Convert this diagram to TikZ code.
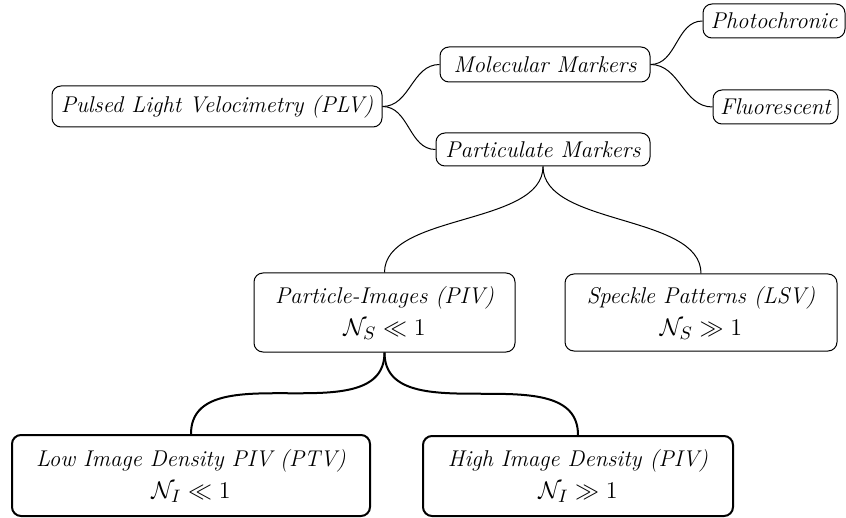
\documentclass[tikz,border=0pt]{standalone}
\usepackage{amsmath,amssymb}
\newcommand{\mline}[1]{{\fontsize{12.5}{15}\selectfont\upshape$#1$}}
\begin{document}
\begin{tikzpicture}[x=0.5pt,y=-0.5pt,
  box/.style={draw, rounded corners=4.5pt, line width=0.5pt, inner sep=0pt, align=center,
    font=\fontsize{11.4}{14}\selectfont\itshape},
  tbox/.style={box, line width=1pt},
  link/.style={line width=0.5pt},
  tlink/.style={line width=1pt}]
\useasboundingbox (0,0) rectangle (846,518);
\node[box, minimum width=165pt, minimum height=20.5pt] (plv) at (217,106.5) {Pulsed Light Velocimetry (PLV)};
\node[box, minimum width=105pt, minimum height=17.5pt] (mol) at (545,64.5) {Molecular Markers};
\node[box, minimum width=71pt, minimum height=17pt] (pho) at (774,21) {Photochronic};
\node[box, minimum width=62.5pt, minimum height=17pt] (flu) at (775.5,107) {Fluorescent};
\node[box, minimum width=107pt, minimum height=16.5pt] (par) at (543,149.5) {Particulate Markers};
\node[box, minimum width=130.5pt, minimum height=39.5pt] (piv) at (384.5,312.5) {Particle-Images (PIV)\\[2pt] \mline{\mathcal{N}_S \ll 1}};
\node[box, minimum width=136pt, minimum height=38.5pt] (lsv) at (701,312.5) {Speckle Patterns (LSV)\\[2pt] \mline{\mathcal{N}_S \gg 1}};
\node[tbox, minimum width=179pt, minimum height=40.5pt] (low) at (191,475.5) {Low Image Density PIV (PTV)\\[2pt] \mline{\mathcal{N}_I \ll 1}};
\node[tbox, minimum width=155pt, minimum height=40pt] (high) at (578,476) {High Image Density (PIV)\\[2pt] \mline{\mathcal{N}_I \gg 1}};
\draw[link] (plv.east) to[out=0,in=180] (mol.west);
\draw[link] (plv.east) to[out=0,in=180] (par.west);
\draw[link] (mol.east) to[out=0,in=180] (pho.west);
\draw[link] (mol.east) to[out=0,in=180] (flu.west);
\draw[link] (par.south) to[out=-90,in=90,looseness=0.8] (piv.north);
\draw[link] (par.south) to[out=-90,in=90,looseness=0.8] (lsv.north);
\draw[tlink] (piv.south) to[out=-90,in=90] (low.north);
\draw[tlink] (piv.south) to[out=-90,in=90] (high.north);
\end{tikzpicture}
\end{document}
